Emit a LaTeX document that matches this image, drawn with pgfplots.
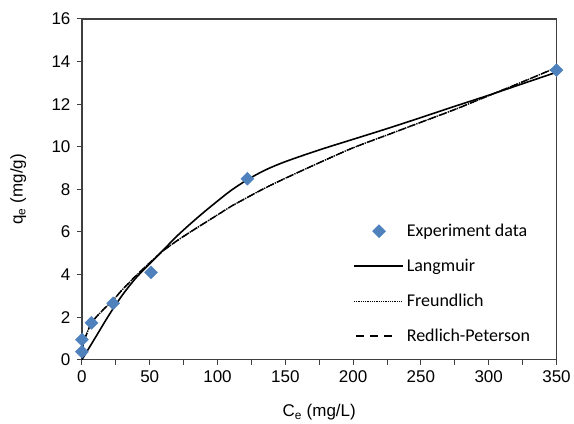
\documentclass[border=0pt]{standalone}
\usepackage{pgfplots}
\pgfplotsset{compat=1.18}
\usepackage{fontspec}
\setmainfont{Liberation Sans}
\newfontfamily\legfont{Carlito}
\definecolor{markblue}{HTML}{4F81BD}
\definecolor{axisgray}{HTML}{3F3F3F}

\begin{document}
\begin{tikzpicture}
\begin{axis}[
    scale only axis,
    width=475pt, height=341pt,
    xmin=0, xmax=350, ymin=0, ymax=16,
    xtick={0,50,...,350},
    minor xtick={25,75,...,325},
    ytick={0,2,...,16},
    tick align=outside,
    xtick pos=bottom, ytick pos=left,
    major tick length=5pt, minor tick length=5pt,
    every tick/.style={axisgray, line width=1pt},
    axis line style={axisgray, line width=1.2pt},
    tick label style={font=\fontsize{17}{20}\selectfont},
    yticklabel style={xshift=-3pt},
    xticklabel style={yshift=-2pt},
    /pgf/number format/assume math mode=true,
    xlabel={C\textsubscript{e} (mg/L)},
    ylabel={q\textsubscript{e} (mg/g)},
    label style={font=\fontsize{17}{20}\selectfont},
    xlabel style={at={(axis description cs:0.5,-0.155)}, anchor=center},
    ylabel style={at={(axis description cs:-0.134,0.5)}, anchor=center},
    clip=false,
    legend cell align=left,
    legend style={at={(0.565,0.41)}, anchor=north west, draw=none, fill=none,
        font=\legfont\fontsize{18}{21}\selectfont, row sep=17pt,
        /tikz/every odd column/.append style={column sep=1pt}},
]
\addplot[only marks, mark=square*, mark size=4.6pt, markblue,
    mark options={rotate=45, fill=markblue, draw=markblue},
    legend image code/.code={\draw[only marks, mark=square*, mark size=4.6pt, markblue,
        mark options={rotate=45, fill=markblue, draw=markblue}] plot coordinates {(25pt,0pt)};}]
coordinates {(0,0.37) (0,0.94) (7,1.73) (23,2.65) (51,4.1) (122,8.5) (350,13.6)};
\addlegendentry{Experiment data}

\addplot[black, line width=1.6pt, smooth,
    legend image code/.code={\draw[black, line width=1.6pt] (0pt,0pt) -- (49pt,0pt);}]
coordinates {(0,0) (10,1.05) (20,2.1) (30,3.05) (40,3.85) (50,4.5) (60,5.15) (70,5.8)
  (80,6.38) (90,6.93) (100,7.45) (110,7.95) (122,8.45) (135,8.9) (150,9.3) (175,9.85)
  (200,10.35) (225,10.85) (250,11.37) (275,11.9) (300,12.42) (325,12.96) (350,13.5)};
\addlegendentry{Langmuir}

\addplot[black, line width=1.4pt, densely dotted, smooth,
    legend image code/.code={\draw[black, line width=0.8pt, densely dotted] (0pt,0pt) -- (47pt,0pt);}]
coordinates {(0,0.45) (2,0.95) (7,1.72) (15,2.3) (23,2.8) (30,3.3) (40,3.95) (50,4.55)
  (60,5.12) (70,5.58) (80,6.0) (90,6.4) (100,6.8) (110,7.2) (122,7.62) (135,8.06)
  (150,8.52) (175,9.25) (200,9.95) (225,10.55) (250,11.15) (275,11.75) (300,12.4)
  (325,13.05) (350,13.72)};
\addlegendentry{Freundlich}

\addplot[black, line width=1.4pt, dash pattern=on 7pt off 4pt, smooth,
    legend image code/.code={\draw[black, line width=1.4pt, dash pattern=on 8pt off 6pt] (2pt,0pt) -- (42pt,0pt);}]
coordinates {(0,0.45) (2,0.95) (7,1.72) (15,2.3) (23,2.8) (30,3.3) (40,3.95) (50,4.55)
  (60,5.12) (70,5.58) (80,6.0) (90,6.4) (100,6.8) (110,7.2) (122,7.62) (135,8.06)
  (150,8.52) (175,9.25) (200,9.95) (225,10.55) (250,11.15) (275,11.75) (300,12.4)
  (325,13.05) (350,13.72)};
\addlegendentry{Redlich-Peterson}
\end{axis}
\path[use as bounding box] (-82pt,-59pt) rectangle (492pt,360pt);
\end{tikzpicture}
\end{document}
